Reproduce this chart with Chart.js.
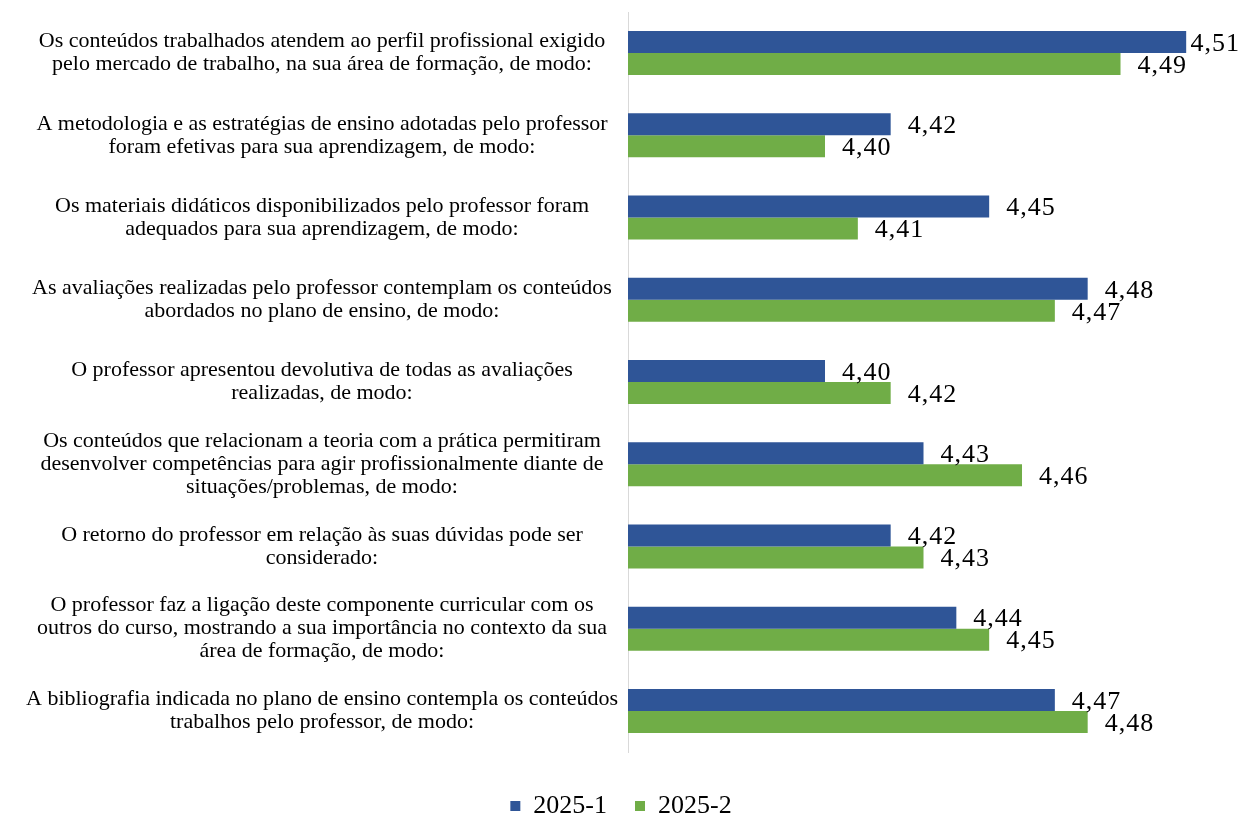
<!DOCTYPE html>
<html><head><meta charset="utf-8">
<script src="https://cdn.jsdelivr.net/npm/chart.js@4/dist/chart.umd.min.js"></script>
<style>html,body{margin:0;padding:0;background:#fff;overflow:hidden}#wrap{width:1242px;height:814px}</style>
</head><body><div id="wrap"><canvas id="c" width="1242" height="814"></canvas></div>
<script>
const categories = [
  ["Os conteúdos trabalhados atendem ao perfil profissional exigido", "pelo mercado de trabalho, na sua área de formação, de modo:"],
  ["A metodologia e as estratégias de ensino adotadas pelo professor", "foram efetivas para sua aprendizagem, de modo:"],
  ["Os materiais didáticos disponibilizados pelo professor foram", "adequados para sua aprendizagem, de modo:"],
  ["As avaliações realizadas pelo professor contemplam os conteúdos", "abordados no plano de ensino, de modo:"],
  ["O professor apresentou devolutiva de todas as avaliações", "realizadas, de modo:"],
  ["Os conteúdos que relacionam a teoria com a prática permitiram", "desenvolver competências para agir profissionalmente diante de", "situações/problemas, de modo:"],
  ["O retorno do professor em relação às suas dúvidas pode ser", "considerado:"],
  ["O professor faz a ligação deste componente curricular com os", "outros do curso, mostrando a sua importância no contexto da sua", "área de formação, de modo:"],
  ["A bibliografia indicada no plano de ensino contempla os conteúdos", "trabalhos pelo professor, de modo:"]
];
const seriesNames = ["2025-1", "2025-2"];
const values2025_1 = [4.51, 4.42, 4.45, 4.48, 4.40, 4.43, 4.42, 4.44, 4.47];
const values2025_2 = [4.49, 4.40, 4.41, 4.47, 4.42, 4.46, 4.43, 4.45, 4.48];

const FONT = "'Liberation Serif', 'Times New Roman', serif";

const valueLabels = {
  id: 'valueLabels',
  afterDatasetsDraw(chart) {
    const ctx = chart.ctx;
    ctx.save();
    ctx.font = "26px " + FONT;
    try { ctx.letterSpacing = '1px'; } catch (e) {}
    ctx.fillStyle = '#000';
    ctx.textBaseline = 'middle';
    ctx.textAlign = 'left';
    chart.data.datasets.forEach((ds, di) => {
      const meta = chart.getDatasetMeta(di);
      meta.data.forEach((bar, i) => {
        const txt = ds.data[i].toFixed(2).replace('.', ',');
        const w = ctx.measureText(txt).width;
        let x = bar.x + 17;
        if (x + w > chart.width - 2) x = chart.width - 2 - w;
        ctx.fillText(txt, x, bar.y + 2);
      });
    });
    ctx.restore();
  }
};

new Chart(document.getElementById('c'), {
  type: 'bar',
  data: {
    labels: categories,
    datasets: [
      { label: seriesNames[0], data: values2025_1, backgroundColor: '#2F5597', borderWidth: 0 },
      { label: seriesNames[1], data: values2025_2, backgroundColor: '#70AD47', borderWidth: 0 }
    ]
  },
  options: {
    indexAxis: 'y',
    responsive: false,
    animation: false,
    layout: { padding: { top: 12, left: 0, right: 0, bottom: -15 } },
    datasets: { bar: { categoryPercentage: 0.535, barPercentage: 1.0 } },
    scales: {
      x: { display: false, min: 4.34, max: 4.527 },
      y: {
        grid: { display: true, drawOnChartArea: false, drawTicks: false },
        border: { display: true, color: '#d9d9d9', width: 1 },
        ticks: { color: '#000', font: { family: FONT, size: 22, lineHeight: 1.045 }, crossAlign: 'center', padding: 10 },
        afterFit(scale) { scale.width = 628; scale.paddingTop = 0; scale.paddingBottom = 0; }
      }
    },
    plugins: {
      legend: {
        position: 'bottom',
        title: { display: true, text: ' ', font: { size: 9, lineHeight: 1.0 }, padding: { top: 2, bottom: 2 } },
        labels: { color: '#000', font: { family: FONT, size: 26 }, boxWidth: 10, boxHeight: 10, padding: 28 }
      },
      tooltip: { enabled: false }
    }
  },
  plugins: [valueLabels]
});
</script>
</body></html>
